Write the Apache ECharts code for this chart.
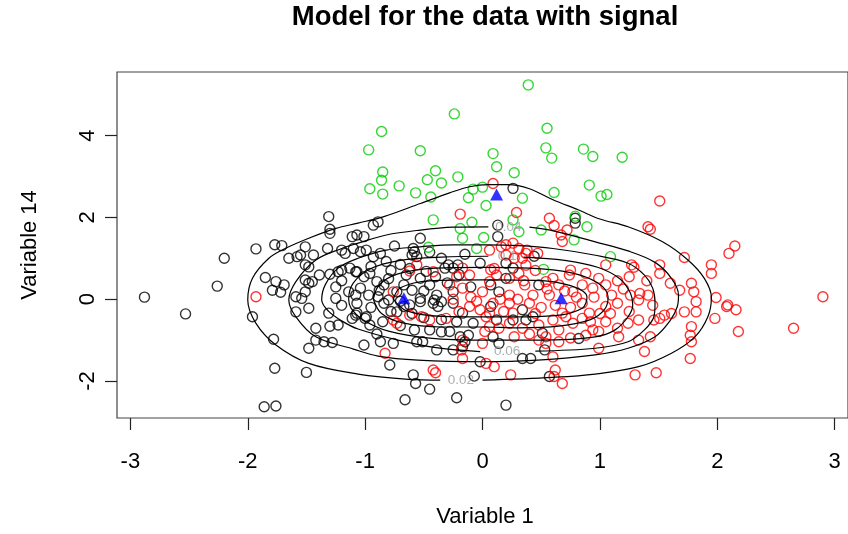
<!DOCTYPE html>
<html>
<head>
<meta charset="utf-8">
<script src="https://cdn.jsdelivr.net/npm/echarts@6.0.0/dist/echarts.min.js"></script>
<style>
  html, body { margin: 0; padding: 0; background: #fff; }
  #chart { width: 848px; height: 534px; }
</style>
</head>
<body>
<div id="chart"></div>
<script>
// tick labels
const xTicks = [-3, -2, -1, 0, 1, 2, 3];
const yTicks = [-2, 0, 2, 4];

// observations, [Variable 1, Variable 14]
const blackPts = [
  [-2.88,0.05],[-2.53,-0.36],[-2.26,0.32],[-2.20,1.00],[-1.93,1.23],[-1.77,1.33],[-1.71,1.31],[-1.31,2.02],
  [-1.30,1.71],[-1.30,1.61],[-1.85,0.53],[-1.76,0.43],[-1.69,0.35],[-1.79,0.22],[-1.72,0.17],[-1.51,1.28],
  [-1.65,1.00],[-1.58,1.04],[-1.55,1.08],[-1.44,1.08],[-1.51,0.84],[-1.48,0.79],[-1.32,1.24],[-1.20,1.20],
  [-1.17,1.12],[-1.10,1.24],[-1.11,1.53],[-1.39,0.59],[-1.45,0.43],[-1.48,0.39],[-1.51,0.47],[-1.30,0.61],
  [-1.23,0.67],[-1.20,0.71],[-1.13,0.76],[-1.08,0.67],[-1.59,0.06],[-1.54,0.02],[-1.51,0.18],[-1.25,0.02],
  [-1.14,0.18],[-1.08,0.10],[-1.96,-0.43],[-1.78,-0.98],[-1.77,-1.69],[-1.50,-1.79],[-1.86,-2.63],[-1.76,-2.61],
  [-1.59,-0.31],[-1.48,-0.22],[-1.31,-0.34],[-1.08,-0.39],[-1.11,-0.47],[-1.42,-0.71],[-1.30,-0.66],[-1.23,-0.63],
  [-1.42,-1.00],[-1.48,-1.20],[-1.35,-1.04],[-1.28,-1.06],[-1.01,-1.12],[-0.79,-1.61],[-0.59,-1.85],[-0.57,-2.06],
  [-0.45,-2.20],[-0.66,-2.46],[-0.22,-2.41],[0.20,-2.59],[-0.07,-1.88],[-0.02,-1.53],[0.34,-1.45],[0.41,-1.45],
  [0.57,-1.89],[0.53,-1.24],[-0.39,-1.24],[-0.87,-1.04],[-0.76,-1.08],[-0.56,-1.04],[-0.51,-1.04],[-0.25,-1.24],
  [-0.17,-1.16],[-0.96,-0.63],[-0.99,-0.43],[-1.07,-0.34],[-0.28,-0.79],[-0.19,-0.92],[-0.15,-1.04],[-0.12,-0.88],
  [-0.45,-0.75],[0.14,-1.08],[0.09,-0.92],[0.82,-0.96],[0.51,-0.83],[-0.84,-0.10],[-0.67,-0.18],[-0.53,-0.06],
  [-0.42,-0.10],[-0.35,-0.06],[0.07,-0.18],[0.34,-0.26],[0.43,-0.43],[-0.93,1.81],[-0.89,1.89],[-1.01,1.53],
  [-1.07,1.57],[-1.04,1.16],[-0.99,1.20],[-0.93,1.04],[-0.87,1.12],[-0.82,0.92],[-0.53,1.49],[-0.59,1.24],
  [-0.58,1.16],[-0.60,1.08],[-0.56,1.04],[-0.29,0.84],[-0.25,0.76],[-0.02,0.88],[0.13,1.81],[0.13,1.53],
  [0.20,0.88],[0.26,0.76],[0.26,2.71],[0.79,1.86],[0.07,0.35],[0.14,0.18],[0.20,0.51],[0.48,0.35],
  [-1.07,0.67],[-1.01,0.55],[-0.96,0.63],[-0.90,0.43],[-0.84,0.35],[-1.04,0.27],[-0.97,0.10],[-0.89,0.06],
  [-0.80,-0.02],[-0.73,0.18],[-0.67,0.35],[-0.65,0.59],[-0.53,0.51],[-0.45,0.35],[-0.39,0.10],[-0.53,0.02],
  [-0.25,0.18],[-1.07,-0.10],[-0.73,-0.31],[-0.62,-0.14],[-0.41,-0.02],[-0.38,-0.18],[-0.25,-0.10],[-0.17,-0.34],
  [-0.08,-0.59],[0.12,-0.51],[0.26,-0.51],[0.37,-0.51],[-1.00,-0.47],[-0.32,0.76],[-0.21,0.84],[0.44,1.05],
  [0.79,1.98],[-0.95,0.80],[-0.78,0.70],[-0.70,0.85],[-0.62,0.75],[-0.48,0.68],[-0.40,0.55],[-0.88,0.22],
  [-0.60,0.22],[-0.50,0.20],[-0.30,0.40],[-0.20,0.60],[-0.10,0.30],[-0.95,-0.20],[-0.78,-0.30],[-0.60,-0.35],
  [-0.50,-0.45],[-0.35,-0.50],[-0.22,-0.55],[-0.85,-0.55],[-0.70,-0.65],[-0.58,-0.75],[-0.35,-0.80],[-0.90,-0.85],
  [-1.20,-0.15],[-1.25,0.30],[-1.20,0.45],[-0.75,1.30],[-0.45,1.15],[-0.35,1.00],[-0.15,1.10],[-0.80,0.50],
  [-0.70,-0.05]
];
const redPts = [
  [0.09,2.83],[-0.19,2.08],[0.29,2.12],[0.57,1.98],[0.61,1.80],[0.67,1.57],[0.68,1.41],[0.06,1.20],
  [0.16,1.28],[0.20,1.08],[0.37,1.12],[0.47,1.12],[-0.56,0.84],[-0.62,0.69],[-0.42,0.67],[-0.17,0.76],
  [-0.76,0.18],[0.72,1.69],[0.20,1.33],[0.26,1.37],[0.31,1.24],[0.38,1.20],[0.27,1.00],[0.34,1.00],
  [0.37,0.83],[0.75,0.71],[0.07,0.72],[-0.11,0.59],[-0.22,0.55],[-0.28,0.35],[0.06,0.43],[0.12,0.59],
  [0.23,0.51],[0.31,0.63],[0.36,0.35],[0.60,0.51],[0.74,0.59],[0.88,0.63],[0.99,0.51],[0.65,0.35],
  [0.77,0.18],[0.94,0.27],[0.54,0.43],[0.43,0.10],[0.57,0.10],[0.23,0.10],[0.00,0.18],[-0.17,0.27],
  [-0.83,-1.32],[-0.42,-1.73],[-0.40,-1.80],[-0.18,-1.24],[-0.17,-1.45],[0.03,-1.57],[0.10,-1.65],[0.24,-1.85],
  [0.00,-1.08],[0.27,-0.92],[0.62,-1.73],[0.61,-1.89],[0.68,-2.06],[0.60,-1.41],[0.65,-1.04],[0.48,-1.00],
  [0.54,-0.92],[0.88,-0.88],[0.94,-0.75],[0.99,-1.20],[-0.73,-0.59],[-0.76,-0.51],[-0.62,-0.39],[-0.52,-0.43],
  [-0.45,-0.51],[-0.31,-0.47],[-0.11,-0.18],[-0.02,-0.26],[0.03,-0.43],[0.06,-0.67],[0.14,-0.71],[0.23,-0.59],
  [0.26,-0.34],[0.34,-0.71],[0.48,-0.63],[0.60,-0.51],[0.71,-0.43],[0.77,-0.59],[0.85,-0.47],[0.91,-0.34],
  [0.68,-0.34],[0.23,-0.10],[0.09,-0.10],[0.06,-0.34],[0.02,-0.79],[-0.17,-1.00],[0.54,-1.08],[1.00,-0.35],
  [1.09,-0.35],[1.05,-0.18],[0.99,-0.79],[1.15,-0.71],[1.16,-0.92],[1.24,-0.59],[1.33,-0.51],[1.46,-0.51],
  [1.43,-0.92],[1.33,-1.00],[1.38,-1.28],[1.30,-1.85],[1.48,-1.80],[1.51,-0.47],[1.55,-0.39],[1.61,-0.35],
  [1.72,-0.31],[1.82,-0.31],[1.82,-0.06],[1.98,-0.47],[2.08,-0.18],[2.16,-0.26],[2.18,-0.79],[1.78,-0.67],
  [1.77,-0.88],[1.78,-1.04],[1.77,-1.45],[2.65,-0.71],[2.90,0.06],[1.51,2.40],[1.41,1.77],[1.43,1.71],
  [2.10,1.12],[2.15,1.30],[1.72,1.02],[1.51,0.84],[1.51,0.63],[1.95,0.84],[1.95,0.63],[1.60,0.39],
  [1.68,0.22],[1.78,0.39],[1.80,0.18],[1.99,0.04],[2.09,-0.14],[1.27,0.84],[1.29,0.78],[1.05,0.84],
  [1.26,0.10],[1.34,0.14],[1.41,0.10],[1.33,-0.02],[-1.93,0.06],[0.50,-0.20],[0.62,-0.15],[0.75,-0.20],
  [0.85,-0.10],[0.95,0.05],[1.10,0.10],[1.15,-0.10],[0.80,0.05],[0.70,0.20],[0.55,0.25],[0.40,-0.10],
  [0.30,0.00],[0.45,-0.35],[0.85,0.35],[1.05,0.35],[1.15,0.45],[1.20,0.25],[0.92,-0.55],[1.05,-0.55],
  [0.65,-0.75],[0.75,-0.95],[0.40,-0.85],[0.18,-0.30],[0.15,0.00],[-0.05,-0.05],[-0.10,0.05],[-0.20,-0.30],
  [-0.25,0.00],[0.10,0.75],[0.45,0.70],[1.25,0.55],[1.40,0.45],[1.45,-0.15],[1.25,-0.30],[0.35,0.45]
];
const greenPts = [
  [0.39,5.24],[-0.24,4.53],[-0.86,4.10],[0.55,4.18],[-0.97,3.65],[-0.53,3.63],[0.09,3.56],[0.54,3.70],
  [0.59,3.45],[0.86,3.67],[0.94,3.49],[1.19,3.47],[0.12,3.24],[0.27,3.09],[-0.85,3.11],[-0.86,2.91],
  [-0.40,3.14],[-0.47,2.92],[-0.35,2.84],[-0.21,2.99],[-0.71,2.77],[-0.96,2.70],[-0.57,2.60],[0.91,2.79],
  [0.61,2.61],[-0.85,2.57],[-0.44,2.50],[-0.12,2.48],[-0.08,2.69],[0.00,2.74],[0.03,2.29],[0.34,2.47],
  [1.01,2.52],[1.06,2.56],[-0.42,1.94],[-0.09,1.88],[-0.19,1.73],[0.26,1.94],[0.31,1.65],[0.50,1.69],
  [0.79,2.03],[0.89,1.77],[-0.17,1.49],[0.01,1.51],[-0.05,1.24],[-0.46,1.27],[0.52,0.73],[1.09,1.04],
  [0.78,1.45]
];
// fitted component means
const centers = [[-0.67, 0.02], [0.12, 2.56], [0.67, 0.02]];

// density contours (open where a label sits)
const contour1 = [
  [0.00,-1.98],[0.60,-1.91],[0.96,-1.83],[1.33,-1.65],[1.61,-1.32],[1.81,-0.92],[1.92,-0.43],[1.95,0.04],
  [1.89,0.51],[1.75,0.96],[1.53,1.41],[1.24,1.77],[1.00,1.96],[0.82,2.18],[0.60,2.43],[0.40,2.70],
  [0.22,2.80],[0.05,2.80],[-0.11,2.75],[-0.28,2.60],[-0.53,2.34],[-0.84,2.02],[-1.06,1.86],[-1.25,1.73],
  [-1.48,1.49],[-1.68,1.24],[-1.82,1.00],[-1.96,0.51],[-2.00,-0.02],[-1.93,-0.59],[-1.76,-1.12],[-1.48,-1.57],
  [-1.06,-1.83],[-0.63,-1.96],[-0.36,-1.98]
];
const contour2 = [
  [0.40,1.76],[0.62,1.66],[0.96,1.40],[1.24,1.18],[1.47,0.90],[1.61,0.51],[1.67,0.10],[1.66,-0.18],
  [1.60,-0.52],[1.47,-0.92],[1.24,-1.20],[0.96,-1.36],[0.47,-1.49],[0.00,-1.53],[-0.55,-1.49],[-0.89,-1.39],
  [-1.10,-1.22],[-1.42,-0.92],[-1.59,-0.43],[-1.65,-0.02],[-1.59,0.43],[-1.42,0.96],[-1.20,1.24],[-1.06,1.37],
  [-0.82,1.57],[-0.53,1.69],[-0.25,1.76],[0.05,1.77]
];
const contour3 = [
  [0.45,-1.27],[0.96,-1.20],[1.24,-1.04],[1.38,-0.75],[1.46,-0.43],[1.47,-0.10],[1.45,0.27],[1.38,0.59],
  [1.24,0.88],[0.95,1.08],[0.60,1.24],[0.31,1.31],[0.03,1.33],[-0.25,1.33],[-0.53,1.28],[-0.82,1.20],
  [-1.06,1.00],[-1.23,0.76],[-1.34,0.35],[-1.37,-0.02],[-1.31,-0.30],[-1.20,-0.53],[-1.06,-0.73],[-0.72,-1.00],
  [-0.38,-1.19],[-0.02,-1.28]
];
const contour4 = [
  [0.35,1.03],[0.70,0.95],[0.98,0.78],[1.17,0.50],[1.26,0.15],[1.28,-0.14],[1.24,-0.43],[1.13,-0.75],
  [0.96,-0.92],[0.50,-1.00],[0.00,-1.00],[-0.45,-0.95],[-0.80,-0.78],[-1.02,-0.50],[-1.12,-0.22],[-1.14,0.00],
  [-1.10,0.40],[-0.95,0.75],[-0.70,0.95],[-0.35,1.03],[0.05,1.05]
];
const contour5 = [
  [-0.93,0.00],[-0.88,0.35],[-0.72,0.62],[-0.40,0.76],[0.00,0.78],[0.40,0.76],[0.75,0.65],[0.98,0.40],
  [1.07,0.05],[1.04,-0.25],[0.92,-0.50],[0.65,-0.66],[0.30,-0.70],[0.00,-0.68],[-0.35,-0.68],[-0.68,-0.58],
  [-0.86,-0.35],[-0.93,0.00]
];
const contour6 = [
  [-0.76,0.00],[-0.70,0.28],[-0.45,0.45],[0.00,0.47],[0.45,0.46],[0.75,0.33],[0.89,0.05],[0.85,-0.22],
  [0.62,-0.40],[0.25,-0.43],[0.00,-0.43],[-0.35,-0.42],[-0.65,-0.28],[-0.76,0.00]
];
const contourLabels = ['0.02', '0.04', '0.06', '0.1'];
const contourLabelPos = [[-0.185,-1.98], [0.22,1.76], [0.21,-1.28], [0.21,1.06]];

const chart = echarts.init(document.getElementById('chart'));

const FONT = '"Liberation Sans", Arial, Helvetica, sans-serif';

function points(data, color) {
  return {
    type: 'scatter',
    data: data,
    symbol: 'circle',
    symbolSize: 10,
    silent: true,
    itemStyle: { color: 'rgba(0,0,0,0)', borderColor: color, borderWidth: 1.4 },
    emphasis: { disabled: true }
  };
}

function contour(data) {
  return {
    type: 'line',
    data: data,
    showSymbol: false,
    smooth: 0.35,
    silent: true,
    lineStyle: { color: '#000', width: 1.2 },
    emphasis: { disabled: true },
    z: 3
  };
}

const option = {
  animation: false,
  backgroundColor: '#fff',
  grid: {
    left: 117, top: 72, width: 735, height: 346,
    show: true, borderColor: '#444', borderWidth: 1.2, containLabel: false
  },
  xAxis: {
    type: 'value', min: -3.114, max: 3.114,
    axisLine: { show: false, onZero: false },
    splitLine: { show: false },
    axisTick: { show: true, length: 12, customValues: xTicks, lineStyle: { color: '#222', width: 1.2 } },
    axisLabel: { customValues: xTicks, margin: 33, color: '#000', fontSize: 22, fontFamily: FONT }
  },
  yAxis: {
    type: 'value', min: -2.905, max: 5.555,
    axisLine: { show: false, onZero: false },
    splitLine: { show: false },
    axisTick: { show: true, length: 12, customValues: yTicks, lineStyle: { color: '#222', width: 1.2 } },
    axisLabel: { customValues: yTicks, rotate: 90, margin: 18, color: '#000', fontSize: 22, fontFamily: FONT }
  },
  graphic: [
    { type: 'text', x: 485, y: 17, style: { text: 'Model for the data with signal', fill: '#000',
      font: 'bold 27.5px ' + FONT, textAlign: 'center', textVerticalAlign: 'middle' } },
    { type: 'text', x: 485, y: 517, style: { text: 'Variable 1', fill: '#000',
      font: '22px ' + FONT, textAlign: 'center', textVerticalAlign: 'middle' } },
    { type: 'text', x: 30, y: 245, rotation: Math.PI / 2, style: { text: 'Variable 14', fill: '#000',
      font: '22px ' + FONT, textAlign: 'center', textVerticalAlign: 'middle' } }
  ],
  series: [
    points(blackPts, '#000000'),
    points(redPts, '#ff0000'),
    points(greenPts, '#00cd00'),
    contour(contour1), contour(contour2), contour(contour3),
    contour(contour4), contour(contour5), contour(contour6),
    {
      type: 'scatter',
      silent: true,
      symbolSize: 0,
      data: contourLabelPos.map((p, i) => ({ value: p, name: contourLabels[i] })),
      label: { show: true, position: 'inside', formatter: '{b}', color: '#999', fontSize: 13.5, fontFamily: FONT },
      z: 4
    },
    {
      type: 'scatter',
      silent: true,
      data: centers,
      symbol: 'triangle',
      symbolSize: [13, 12],
      itemStyle: { color: '#0000ff' },
      z: 5
    }
  ]
};

chart.setOption(option);
</script>
</body>
</html>
